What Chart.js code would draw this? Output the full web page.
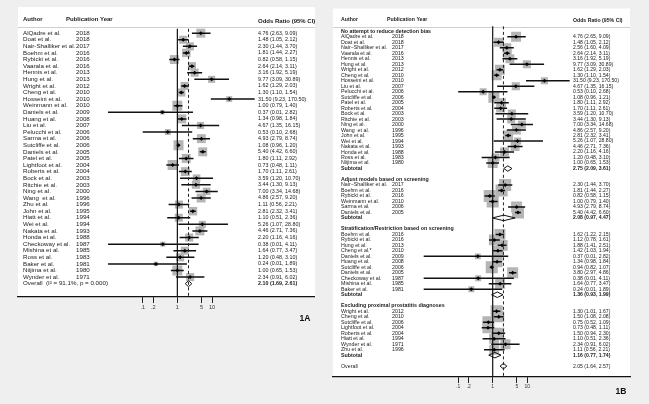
<!DOCTYPE html>
<html><head><meta charset="utf-8">
<script src="https://cdn.jsdelivr.net/npm/chart.js@4.4.1/dist/chart.umd.min.js"></script>
<style>
html,body{margin:0;padding:0;background:#efefef;}
body{width:649px;height:404px;position:relative;overflow:hidden;}
#cA{position:absolute;left:0;top:0;}
#cB{position:absolute;left:322px;top:0;}
</style></head>
<body>
<canvas id="cA" width="322" height="404"></canvas>
<canvas id="cB" width="327" height="404"></canvas>
<script>
// ---------- shared axis ----------
const tickValues = [0.1, 0.2, 1, 5, 10];
const tickLabels = ['.1', '.2', '1', '5', '10'];

// ---------- Panel 1A ----------
const authorsA = ['AlQadre et al.','Doat et al.','Nair-Shalliker et al.','Boehm et al.','Rybicki et al.','Vaarala et al.','Hennis et al.','Hung et al.','Wright et al.','Cheng et al.','Hosseini et al.','Weinmann et al.','Daniels et al.','Huang et al.','Liu et al.','Pelucchi et al.','Sarma et al.','Sutcliffe et al.','Daniels et al.','Patel et al.','Lightfoot et al.','Roberts et al.','Bock et al.','Ritchie et al.','Ning et al.','Wang  et al.','Zhu et al.','John et al.','Hiatt et al.','Wei et al.','Nakata et al.','Honda et al.','Checkoway et al.','Mishina et al.','Ross et al.','Baker et al.','Niijima et al.','Wynder et al.'];
const yearsA = [2018,2018,2017,2016,2016,2016,2013,2013,2012,2010,2010,2010,2009,2008,2007,2006,2006,2006,2005,2005,2004,2004,2003,2003,2000,1996,1996,1995,1994,1994,1993,1988,1987,1985,1983,1981,1980,1971];
const orA = [4.76,1.48,2.30,1.81,0.82,2.64,3.16,9.77,1.62,1.30,31.50,1.00,0.37,1.34,4.67,0.53,4.93,1.08,5.40,1.80,0.73,1.70,3.59,3.44,7.00,4.86,1.11,2.81,1.10,5.26,4.46,2.20,0.38,1.64,1.20,0.24,1.00,2.34];
const loA = [2.63,1.05,1.44,1.44,0.58,2.14,1.92,3.09,1.29,1.10,9.23,0.79,0.01,0.98,1.35,0.10,2.79,0.96,4.42,1.11,0.48,1.11,1.20,1.30,3.34,2.57,0.56,2.32,0.51,1.07,2.71,1.16,0.01,0.77,0.48,0.01,0.65,0.91];
const hiA = [9.09,2.12,3.70,2.27,1.15,3.11,5.19,30.89,2.03,1.54,170.50,1.40,2.82,1.84,16.15,2.68,8.74,1.20,6.60,2.92,1.11,2.61,10.70,9.13,14.68,9.20,2.21,3.41,2.36,28.80,7.36,4.16,4.11,3.47,3.10,1.89,1.53,6.02];
const weightA = [3.2,2.6,2.6,2.9,3.2,2.6,2.6,2.0,2.6,2.6,1.4,4.0,0.8,3.2,2.0,1.4,3.2,4.0,3.2,3.2,4.0,3.2,2.3,2.6,2.3,3.2,2.6,2.9,2.6,2.0,3.2,2.6,1.0,2.6,2.6,0.8,4.0,2.6];
const overallA = [2.10, 1.69, 2.61];
const overallLabelA = 'Overall  (I\u00B2 = 91.1%, p = 0.000)';

// ---------- Panel 1B ----------
const groupTitlesB = ['No attempt to reduce detection bias','Adjust models based on screening','Stratification/Restriction based on screening','Excluding proximal prostatitis diagnoses'];
const authorsB = ['AlQadre et al.','Doat et al.','Nair\u2212Shalliker et al.','Vaarala et al.','Hennis et al.','Hung et al.','Wright et al.','Cheng et al.','Hosseini et al.','Liu et al.','Pelucchi et al.','Sutcliffe et al.','Patel et al.','Roberts et al.','Bock et al.','Ritchie et al.','Ning et al.','Wang  et al.','John et al.','Wei et al.','Nakata et al.','Honda et al.','Ross et al.','Niijima et al.',
  'Nair\u2212Shalliker et al.','Boehm et al.','Rybicki et al.','Weinmann et al.','Sarma et al.','Daniels et al.',
  'Boehm et al.','Rybicki et al.','Hung et al.','Cheng et al.*','Daniels et al.','Huang et al.','Sutcliffe et al.','Daniels et al.','Checkoway et al.','Mishina et al.','Baker et al.',
  'Wright et al.','Cheng et al.','Sutcliffe et al.','Lightfoot et al.','Roberts et al.','Hiatt et al.','Wynder et al.','Zhu et al.'];
const groupB = [0,0,0,0,0,0,0,0,0,0,0,0,0,0,0,0,0,0,0,0,0,0,0,0, 1,1,1,1,1,1, 2,2,2,2,2,2,2,2,2,2,2, 3,3,3,3,3,3,3,3];
const yearsB = [2018,2018,2017,2016,2013,2013,2012,2010,2010,2007,2006,2006,2005,2004,2003,2003,2000,1996,1995,1994,1993,1988,1983,1980,
  2017,2016,2016,2010,2006,2005,
  2016,2016,2013,2010,2009,2008,2006,2005,1987,1985,1981,
  2012,2010,2006,2004,2004,1994,1971,1996];
const orB = [4.76,1.48,2.56,2.64,3.16,9.77,1.62,1.30,31.50,4.67,0.53,1.08,1.80,1.70,3.59,3.44,7.00,4.86,2.81,5.26,4.46,2.20,1.20,1.00,
  2.30,1.81,0.82,1.00,4.93,5.40,
  1.62,1.12,1.88,1.42,0.37,1.34,0.94,3.80,0.38,1.64,0.24,
  1.30,1.50,0.75,0.73,1.50,1.10,2.34,1.11];
const loB = [2.65,1.05,1.60,2.14,1.92,3.09,1.29,1.10,9.23,1.35,0.10,0.96,1.11,1.11,1.20,1.30,3.34,2.57,2.32,1.07,2.71,1.16,0.48,0.65,
  1.44,1.44,0.58,0.79,2.79,4.42,
  1.22,0.78,1.41,1.03,0.01,0.98,0.82,2.97,0.01,0.77,0.01,
  1.01,1.08,0.52,0.48,0.94,0.51,0.91,0.56];
const hiB = [9.09,2.12,4.09,3.11,5.19,30.89,2.03,1.54,170.50,16.15,2.68,1.21,2.92,2.61,10.70,9.13,14.68,9.20,3.41,28.80,7.36,4.16,3.10,1.53,
  3.70,2.27,1.15,1.40,8.74,6.60,
  2.15,1.61,2.51,1.94,2.82,1.84,1.07,4.86,4.11,3.47,1.89,
  1.67,2.08,1.09,1.11,2.30,2.36,6.02,2.21];
const weightB = [4.0,3.2,3.2,3.2,3.2,2.6,4.0,4.0,2.0,2.6,2.0,4.8,3.2,3.2,2.6,2.6,2.6,3.2,4.0,2.0,3.2,3.2,2.6,4.0,
  5.8,5.8,5.8,5.8,4.8,5.8,
  4.8,4.8,4.8,4.8,1.4,4.8,5.8,4.8,1.4,4.0,1.4,
  5.8,4.8,5.8,4.8,4.8,4.0,4.0,4.0];
const subOrB = [2.75, 2.08, 1.36, 1.16];
const subLoB = [2.09, 0.97, 0.93, 0.77];
const subHiB = [3.61, 4.47, 1.99, 1.74];
const overallB = [2.05, 1.64, 2.57];

// ---------- helpers ----------
const FONT = "'Liberation Sans', Arial, Helvetica, sans-serif";
const f2 = v => v.toFixed(2);
const ciText = (o, l, h) => f2(o) + ' (' + f2(l) + ', ' + f2(h) + ')';

// rows for A
const rowsA = authorsA.map((a, i) => ({kind: 'study', y: i, label: a, year: String(yearsA[i]), or: orA[i], lo: loA[i], hi: hiA[i], w: weightA[i]}));
rowsA.push({kind: 'overall', y: authorsA.length, label: overallLabelA, or: overallA[0], lo: overallA[1], hi: overallA[2], boldCI: true});

// rows for B
const rowsB = [];
let rb = 0;
groupTitlesB.forEach((t, g) => {
  rowsB.push({kind: 'title', y: rb++, label: t});
  authorsB.forEach((a, i) => {
    if (groupB[i] !== g) return;
    rowsB.push({kind: 'study', y: rb++, label: a, year: String(yearsB[i]), or: orB[i], lo: loB[i], hi: hiB[i], w: weightB[i]});
  });
  rowsB.push({kind: 'sub', y: rb++, label: 'Subtotal', or: subOrB[g], lo: subLoB[g], hi: subHiB[g], boldLabel: true, boldCI: true});
  rb++;
});
rowsB.push({kind: 'overall', y: rb, label: 'Overall', or: overallB[0], lo: overallB[1], hi: overallB[2]});

function forest(id, rows, overall, g) {
  const studies = rows.filter(r => r.kind === 'study');
  const dias = rows.filter(r => r.kind === 'sub' || r.kind === 'overall');
  const ci = [];
  studies.forEach(r => ci.push({x: r.lo, y: r.y}, {x: r.hi, y: r.y}, {x: null, y: null}));
  const datasets = [
    {data: studies.map(r => ({x: r.or, y: r.y})), pointStyle: 'rect',
     pointRadius: studies.map(r => g.boxK * Math.sqrt(r.w) / Math.SQRT2),
     backgroundColor: '#b5b5b5', borderColor: '#b5b5b5', borderWidth: 0, order: 6},
    {data: [{x: 1, y: g.lineTop}, {x: 1, y: g.yMax}], showLine: true, borderColor: '#111', borderWidth: 1.2, pointRadius: 0, order: 5},
    {data: ci, showLine: true, spanGaps: false, borderColor: '#111', borderWidth: 1.5, pointRadius: 0, order: 3},
    {data: studies.map(r => ({x: r.or, y: r.y})), pointStyle: 'rectRot', pointRadius: 2,
     backgroundColor: '#000', borderColor: '#000', borderWidth: 0, order: 2}
  ];
  dias.forEach(r => datasets.push({
    data: [{x: r.lo, y: r.y}, {x: r.or, y: r.y - g.dh}, {x: r.hi, y: r.y}, {x: r.or, y: r.y + g.dh}, {x: r.lo, y: r.y}],
    showLine: true, borderColor: '#111', borderWidth: 1, pointRadius: 0, order: 1}));
  datasets.push({data: [{x: overall[0], y: g.lineTop}, {x: overall[0], y: g.yMax}], showLine: true,
    borderColor: '#222', borderWidth: 1, borderDash: [3, 2.5], pointRadius: 0, order: 0});

  const textPlugin = {
    id: 'forestText',
    beforeDraw(chart) {
      const {ctx, chartArea: a} = chart;
      ctx.save();
      ctx.fillStyle = '#ffffff';
      ctx.fillRect(a.left, a.top, a.right - a.left, a.bottom - a.top);
      const ly = chart.scales.y.getPixelForValue(g.headLineY);
      ctx.strokeStyle = '#cfcfcf'; ctx.lineWidth = 1;
      ctx.beginPath(); ctx.moveTo(a.left, Math.round(ly) + 0.5); ctx.lineTo(a.right, Math.round(ly) + 0.5); ctx.stroke();
      ctx.restore();
    },
    afterDraw(chart) {
      const {ctx, chartArea: a, scales: {y}} = chart;
      ctx.save();
      ctx.textBaseline = 'middle';
      ctx.textAlign = 'left';
      ctx.fillStyle = '#1a1a1a';
      // headers
      ctx.font = 'bold ' + g.headSize + 'px ' + FONT;
      ctx.fillText('Author', a.left + g.xAuthor, y.getPixelForValue(g.headY));
      ctx.fillText('Publication Year', a.left + g.xYearHead, y.getPixelForValue(g.headY));
      ctx.fillText('Odds Ratio (95% CI)', a.left + g.xCI, y.getPixelForValue(g.headY2));
      rows.forEach(r => {
        const py = y.getPixelForValue(r.y);
        if (r.kind === 'title') {
          ctx.font = 'bold ' + g.labSize + 'px ' + FONT;
          ctx.fillText(r.label, a.left + g.xAuthor, py);
          return;
        }
        ctx.font = (r.boldLabel ? 'bold ' : '') + g.labSize + 'px ' + FONT;
        ctx.fillText(r.label, a.left + g.xAuthor, py);
        if (r.year) {
          ctx.font = g.labSize + 'px ' + FONT;
          ctx.fillText(r.year, a.left + g.xYear, py);
        }
        ctx.font = (r.boldCI ? 'bold ' : '') + g.numSize + 'px ' + FONT;
        ctx.fillText(ciText(r.or, r.lo, r.hi), a.left + g.xCI, py);
      });
      // panel label
      ctx.font = 'bold ' + g.tagSize + 'px ' + FONT;
      ctx.textAlign = 'center';
      ctx.fillStyle = '#111';
      ctx.fillText(g.tag, g.tagX, g.tagY);
      ctx.restore();
    }
  };

  return new Chart(document.getElementById(id), {
    type: 'scatter',
    data: {datasets},
    options: {
      responsive: false, animation: false, events: [],
      layout: {padding: {left: g.padL, right: g.padR, top: 5, bottom: 0}},
      plugins: {legend: {display: false}, tooltip: {enabled: false}},
      scales: {
        x: {
          type: 'logarithmic', position: 'bottom', bounds: 'data',
          min: g.xMin, max: g.xMax,
          afterBuildTicks: s => { s.ticks = tickValues.map(v => ({value: v})); },
          afterFit: s => { s.height = g.axisH; },
          ticks: {autoSkip: false, maxRotation: 0, minRotation: 0, padding: 1,
                  color: '#333', font: {family: FONT, size: g.tickSize},
                  callback: (v, i) => tickLabels[i]},
          grid: {drawOnChartArea: false, drawTicks: true, tickLength: 6, color: '#222', lineWidth: 1},
          border: {display: true, color: '#111', width: 1.2}
        },
        y: {type: 'linear', display: false, reverse: true, min: g.yMin, max: g.yMax}
      }
    },
    plugins: [textPlugin]
  });
}

forest('cA', rowsA, overallA, {
  padL: 18, padR: 4, axisH: 107,
  xMin: Math.pow(10, -4.6), xMax: Math.pow(10, 3.971),
  yMin: -3.96, yMax: 40.02, lineTop: -0.66, headLineY: -0.96,
  headY: -2.1, headY2: -1.85, dh: 0.45, boxK: 5,
  xAuthor: 5, xYearHead: 48, xYear: 58, xCI: 240,
  headSize: 6, labSize: 6.2, numSize: 5.35, tickSize: 5.5,
  tag: '1A', tagSize: 8.5, tagX: 305, tagY: 319
});

forest('cB', rowsB, overallB, {
  padL: 11, padR: 19, axisH: 27,
  xMin: Math.pow(10, -4.629), xMax: Math.pow(10, 3.98),
  yMin: -4.151, yMax: 62.98, lineTop: -0.9, headLineY: -0.72,
  headY: -2.1, headY2: -1.95, dh: 0.5, boxK: 5,
  xAuthor: 8, xYearHead: 54, xYear: 59, xCI: 240,
  headSize: 5.2, labSize: 5.3, numSize: 5.1, tickSize: 5,
  tag: '1B', tagSize: 8.5, tagX: 299, tagY: 392
});
</script>
</body></html>
